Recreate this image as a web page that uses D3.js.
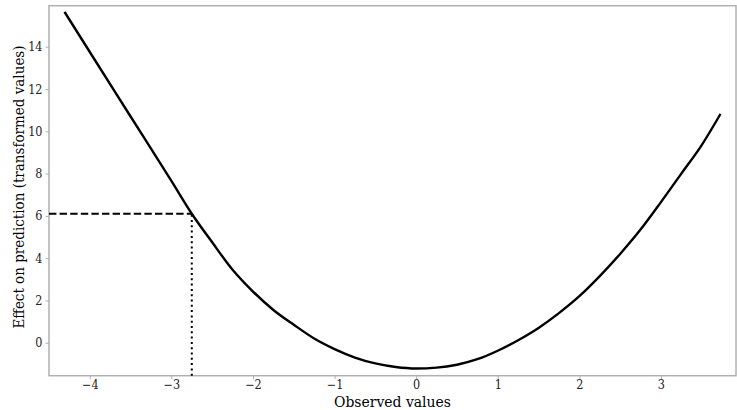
<!DOCTYPE html>
<html><head><meta charset="utf-8">
<script src="https://cdn.jsdelivr.net/npm/d3@7"></script>
<style>body{margin:0;background:#fff}svg{display:block}
text{font-family:'DejaVu Serif Condensed','DejaVu Serif',serif;font-stretch:condensed}</style>
</head><body>
<svg id="c" width="737" height="410"></svg>
<script>
const xVals = [-4.31,-4.0,-3.5,-3.0,-2.75,-2.5,-2.25,-2.0,-1.75,-1.5,-1.25,-1.0,-0.75,-0.5,-0.25,0.0,0.25,0.5,0.75,1.0,1.25,1.5,1.75,2.0,2.25,2.5,2.75,3.0,3.25,3.5,3.73];
const yVals = [15.65,13.75,10.7,7.65,6.1,4.75,3.45,2.42,1.55,0.85,0.2,-0.3,-0.7,-0.98,-1.15,-1.22,-1.18,-1.04,-0.78,-0.38,0.12,0.7,1.4,2.2,3.15,4.2,5.35,6.65,8.0,9.35,10.82];
const xTicks = [-4,-3,-2,-1,0,1,2,3];
const yTicks = [0,2,4,6,8,10,12,14];
const markX = [-2.75];
const markY = [6.1];
const xLabel = "Observed values";
const yLabel = "Effect on prediction (transformed values)";

const L=49, R=736, T=5.7, B=375.7;
const x = d3.scaleLinear().domain([-4.5,3.92]).range([L,R]);
const y = d3.scaleLinear().domain([-1.56,15.94]).range([B,T]);
const svg = d3.select("#c");
const spine = "#b0b0b0";

svg.append("rect").attr("x",L).attr("y",T).attr("width",R-L).attr("height",B-T)
  .attr("fill","none").attr("stroke",spine).attr("stroke-width",1.5);

const xa = svg.append("g").attr("transform",`translate(0,${B})`)
  .call(d3.axisBottom(x).tickValues(xTicks).tickSize(3.5).tickPadding(1).tickFormat(d=>d<0?"\u2212"+Math.abs(d):d));
const ya = svg.append("g").attr("transform",`translate(${L},0)`)
  .call(d3.axisLeft(y).tickValues(yTicks).tickSize(3.5).tickPadding(3));
[xa,ya].forEach(a=>{
  a.select(".domain").remove();
  a.selectAll(".tick line").attr("stroke",spine).attr("stroke-width",1);
  a.selectAll(".tick text").attr("fill","#222").attr("font-family",null).style("font-size","12.5px");
});

svg.append("line").attr("x1",x.range()[0]).attr("x2",x(markX[0])).attr("y1",y(markY[0])).attr("y2",y(markY[0]))
  .attr("stroke","#000").attr("stroke-width",2).attr("stroke-dasharray","7.4,3.2");
svg.append("line").attr("x1",x(markX[0])).attr("x2",x(markX[0])).attr("y1",B).attr("y2",y(markY[0]))
  .attr("stroke","#000").attr("stroke-width",2).attr("stroke-dasharray","2,3.3");

const pts = xVals.map((v,i)=>[v,yVals[i]]);
svg.append("path").datum(pts)
  .attr("d",d3.line().x(d=>x(d[0])).y(d=>y(d[1])).curve(d3.curveMonotoneX))
  .attr("fill","none").attr("stroke","#000").attr("stroke-width",2.4);

svg.append("text").attr("x",(L+R)/2).attr("y",407).attr("text-anchor","middle")
  .style("font-size","15.5px").attr("fill","#000").text(xLabel);
svg.append("text").attr("transform",`translate(24,187) rotate(-90)`).attr("text-anchor","middle")
  .style("font-size","15px").attr("fill","#000").text(yLabel);
</script>
</body></html>
